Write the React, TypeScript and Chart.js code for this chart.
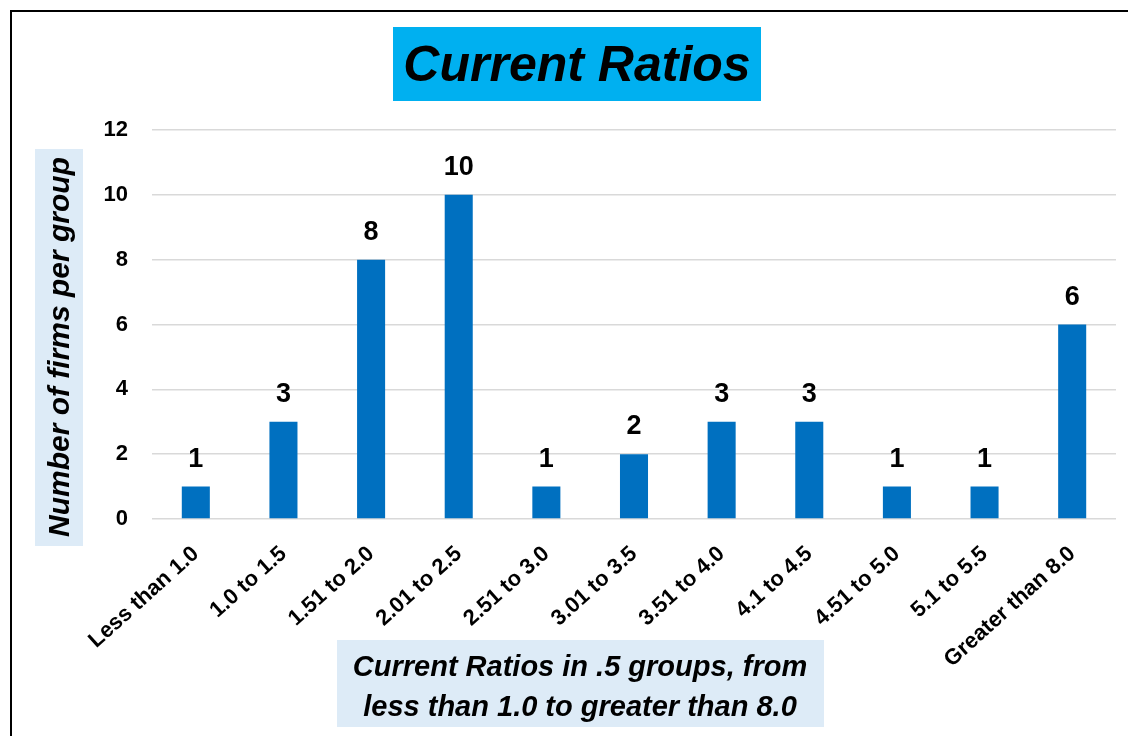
import React, { useEffect, useRef } from 'react';
import { Chart, registerables } from 'chart.js';

Chart.register(...registerables);

const categories = [
  'Less than 1.0',
  '1.0 to 1.5',
  '1.51 to 2.0',
  '2.01 to 2.5',
  '2.51 to 3.0',
  '3.01 to 3.5',
  '3.51 to 4.0',
  '4.1 to 4.5',
  '4.51 to 5.0',
  '5.1 to 5.5',
  'Greater than 8.0',
];
const firmCounts = [1, 3, 8, 10, 1, 2, 3, 3, 1, 1, 6];
const yMin = 0;
const yMax = 12;
const yStep = 2;
const chartTitle = 'Current Ratios';
const yAxisTitle = 'Number of firms per group';
const xAxisTitleLines = ['Current Ratios in .5 groups, from', 'less than 1.0 to greater than 8.0'];

const W = 1128;
const H = 736;
const FONT = '"Liberation Sans", Arial, sans-serif';

const decorPlugin = {
  id: 'decor',
  beforeDraw(chart: any) {
    const ctx = chart.ctx as CanvasRenderingContext2D;
    ctx.save();
    ctx.fillStyle = '#ffffff';
    ctx.fillRect(0, 0, W, H);
    // frame
    ctx.strokeStyle = '#000000';
    ctx.lineWidth = 2;
    ctx.strokeRect(11, 11, W + 40, H + 40);
    // title
    ctx.fillStyle = '#00B0F0';
    ctx.fillRect(393, 27, 368, 74);
    ctx.fillStyle = '#000000';
    ctx.font = `italic bold 50px ${FONT}`;
    ctx.textAlign = 'center';
    ctx.textBaseline = 'alphabetic';
    ctx.fillText(chartTitle, 577, 81);
    // y axis title
    ctx.fillStyle = '#DDEBF7';
    ctx.fillRect(35, 149, 48, 397);
    ctx.save();
    ctx.translate(60, 347);
    ctx.rotate(-Math.PI / 2);
    ctx.fillStyle = '#000000';
    ctx.font = `italic bold 30px ${FONT}`;
    ctx.textAlign = 'center';
    ctx.textBaseline = 'middle';
    ctx.fillText(yAxisTitle, 0, 1);
    ctx.restore();
    // x axis title
    ctx.fillStyle = '#DDEBF7';
    ctx.fillRect(337, 640, 487, 87);
    ctx.fillStyle = '#000000';
    ctx.font = `italic bold 29px ${FONT}`;
    ctx.textAlign = 'center';
    ctx.textBaseline = 'alphabetic';
    ctx.fillText(xAxisTitleLines[0], 580, 676);
    ctx.fillText(xAxisTitleLines[1], 580, 716);
    ctx.restore();
  },
  afterDatasetsDraw(chart: any) {
    const ctx = chart.ctx as CanvasRenderingContext2D;
    const meta = chart.getDatasetMeta(0);
    ctx.save();
    ctx.fillStyle = '#000000';
    ctx.font = `bold 27px ${FONT}`;
    ctx.textAlign = 'center';
    ctx.textBaseline = 'alphabetic';
    meta.data.forEach((bar: any, i: number) => {
      ctx.fillText(String(firmCounts[i]), bar.x, bar.y - 20);
    });
    ctx.restore();
  },
};

export default function App() {
  const canvasRef = useRef<HTMLCanvasElement | null>(null);

  useEffect(() => {
    if (!canvasRef.current) return;
    const chart = new Chart(canvasRef.current, {
      type: 'bar',
      data: {
        labels: categories,
        datasets: [
          {
            data: firmCounts,
            backgroundColor: '#0070C0',
            borderWidth: 0,
            categoryPercentage: 1,
            barPercentage: 0.32,
          },
        ],
      },
      options: {
        responsive: false,
        animation: false,
        devicePixelRatio: 1,
        layout: { padding: { top: 130, right: 12, left: 0, bottom: 0 } },
        plugins: {
          legend: { display: false },
          tooltip: { enabled: false },
          title: { display: false },
        },
        scales: {
          x: {
            grid: { display: false },
            border: { display: false },
            ticks: {
              color: '#000000',
              font: { family: FONT, size: 22, weight: 'bold' },
              minRotation: 42,
              maxRotation: 42,
              autoSkip: false,
              padding: 14,
            },
            afterFit: (s: any) => {
              s.height = H - 519;
            },
          },
          y: {
            min: yMin,
            max: yMax,
            ticks: {
              stepSize: yStep,
              color: '#000000',
              font: { family: FONT, size: 22, weight: 'bold' },
              padding: 24,
            },
            grid: { color: '#D9D9D9', lineWidth: 1.5, drawTicks: false },
            border: { display: false },
            afterFit: (s: any) => {
              s.width = 152;
            },
          },
        },
      },
      plugins: [decorPlugin],
    });
    return () => chart.destroy();
  }, []);

  return (
    <div style={{ position: 'absolute', left: 0, top: 0, width: W, height: H }}>
      <canvas ref={canvasRef} width={W} height={H} style={{ width: W, height: H, display: 'block' }} />
    </div>
  );
}
